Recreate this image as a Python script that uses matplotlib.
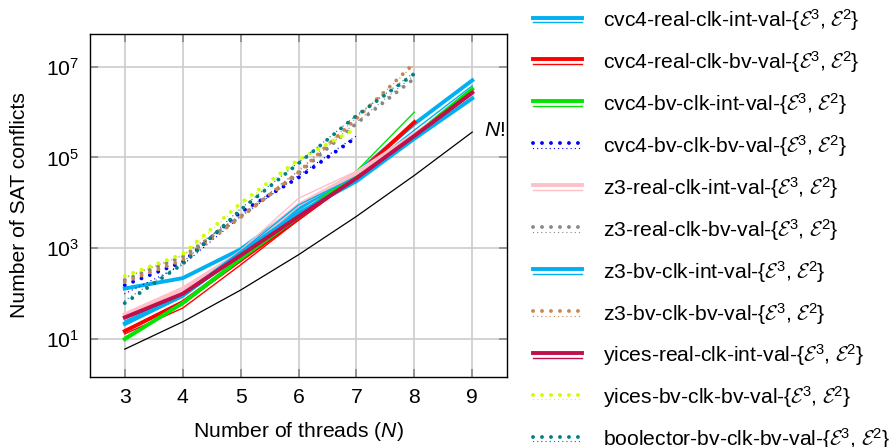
import matplotlib
matplotlib.use('Agg')
import matplotlib.pyplot as plt
from matplotlib.legend_handler import HandlerBase
from matplotlib.lines import Line2D

plt.rcParams['font.family'] = ['Liberation Sans', 'DejaVu Sans']
plt.rcParams['mathtext.fontset'] = 'custom'
plt.rcParams['mathtext.rm'] = 'Liberation Sans'
plt.rcParams['mathtext.it'] = 'Liberation Sans:italic'
plt.rcParams['mathtext.cal'] = 'cmsy10'

FS = 15.2

# ---------------- data ----------------
threads = [3, 4, 5, 6, 7, 8, 9]
n_factorial = [6, 24, 120, 720, 5040, 40320, 362880]

series_names = [
    'cvc4-real-clk-int-val', 'cvc4-real-clk-bv-val', 'cvc4-bv-clk-int-val',
    'cvc4-bv-clk-bv-val', 'z3-real-clk-int-val', 'z3-real-clk-bv-val',
    'z3-bv-clk-int-val', 'z3-bv-clk-bv-val', 'yices-real-clk-int-val',
    'yices-bv-clk-bv-val', 'boolector-bv-clk-bv-val',
]
series_colors = ['#00b0f0', '#ff0000', '#00e600', '#0000ff', '#ffc0c8', '#888888',
                 '#00b0f0', '#c88850', '#c0104a', '#ccff00', '#008080']
series_dotted = [False, False, False, True, False, True, False, True, False, True, True]

# E^3 (thick) and E^2 (thin) values per series
cvc4_real_clk_int_E3 = [130, 220, 950, 8000, 45000, 5.5e5, 5.0e6]
cvc4_real_clk_int_E2 = [20, 85, 700, 7000, 40000, 4.0e5, 3.8e6]
cvc4_real_clk_bv_E3 = [15, 65, 550, 4500, 40000, 6.0e5]
cvc4_real_clk_bv_E2 = [13, 48, 430, 4200, 35000, 3.0e5, 3.0e6]
cvc4_bv_clk_int_E3 = [10, 62, 600, 5000, 40000, 3.0e5, 3.2e6]
cvc4_bv_clk_int_E2 = [11, 58, 550, 5500, 50000, 1.0e6]
cvc4_bv_clk_bv_E3 = [155, 500, 6200, 36000, 2.8e5]
cvc4_bv_clk_bv_E2 = [100, 430, 5000, 40000, 3.0e5]
z3_real_clk_int_E3 = [35, 130, 800, 9000, 45000, 3.0e5, 2.3e6]
z3_real_clk_int_E2 = [30, 120, 900, 12600, 50000, 3.5e5, 2.5e6]
z3_real_clk_bv_E3 = [200, 650, 5000, 45000, 5.6e5, 5.5e6]
z3_real_clk_bv_E2 = [220, 700, 5500, 50000, 6.0e5, 6.5e6]
z3_bv_clk_int_E3 = [22, 90, 800, 6000, 30000, 2.6e5, 2.0e6]
z3_bv_clk_int_E2 = [25, 100, 850, 9000, 38000, 3.0e5, 2.5e6]
z3_bv_clk_bv_E3 = [182, 550, 4800, 47000, 7.2e5, 1.2e7]
z3_bv_clk_bv_E2 = [230, 700, 5200, 52000, 7.5e5, 1.1e7]
yices_real_clk_int_E3 = [30, 100, 700, 5000, 35000, 3.0e5, 2.7e6]
yices_real_clk_int_E2 = [28, 95, 650, 4800, 33000, 2.8e5, 2.5e6]
yices_bv_clk_bv_E3 = [245, 750, 9800, 90000, 4.4e5]
yices_bv_clk_bv_E2 = [230, 700, 9000, 85000, 4.2e5]
boolector_bv_clk_bv_E3 = [62, 450, 7000, 74000, 8.3e5, 7.0e6]
boolector_bv_clk_bv_E2 = [70, 480, 7500, 78000, 8.5e5, 7.5e6]

series_E3 = [cvc4_real_clk_int_E3, cvc4_real_clk_bv_E3, cvc4_bv_clk_int_E3,
             cvc4_bv_clk_bv_E3, z3_real_clk_int_E3, z3_real_clk_bv_E3,
             z3_bv_clk_int_E3, z3_bv_clk_bv_E3, yices_real_clk_int_E3,
             yices_bv_clk_bv_E3, boolector_bv_clk_bv_E3]
series_E2 = [cvc4_real_clk_int_E2, cvc4_real_clk_bv_E2, cvc4_bv_clk_int_E2,
             cvc4_bv_clk_bv_E2, z3_real_clk_int_E2, z3_real_clk_bv_E2,
             z3_bv_clk_int_E2, z3_bv_clk_bv_E2, yices_real_clk_int_E2,
             yices_bv_clk_bv_E2, boolector_bv_clk_bv_E2]

yticks = [1e1, 1e3, 1e5, 1e7]
ytick_labels = [r'$10^{1}$', r'$10^{3}$', r'$10^{5}$', r'$10^{7}$']


def style_kwargs(dotted, thick):
    if dotted:
        if thick:
            return dict(linestyle=(0, (0.01, 2.3)), dash_capstyle='round', linewidth=2.8)
        return dict(linestyle=(0, (0.01, 3.0)), dash_capstyle='round', linewidth=1.0)
    return dict(linestyle='-', linewidth=2.8 if thick else 1.0)


class DoubleLineHandler(HandlerBase):
    def create_artists(self, legend, orig_handle, xdescent, ydescent,
                       width, height, fontsize, trans):
        color, dotted = orig_handle
        ymid = height / 2 - ydescent
        arts = []
        for thick, dy in ((True, 0.12 * height), (False, -0.18 * height)):
            ln = Line2D([-xdescent, width - xdescent], [ymid + dy, ymid + dy],
                        color=color, **style_kwargs(dotted, thick))
            ln.set_transform(trans)
            arts.append(ln)
        return arts


fig = plt.figure(figsize=(8.96, 4.47), dpi=100)
ax = fig.add_axes([90 / 896, 1 - 377 / 447, 417 / 896, 343 / 447])

handles = []
labels = []
for name, col, dot, e3, e2 in zip(series_names, series_colors, series_dotted,
                                   series_E3, series_E2):
    ax.plot(threads[:len(e3)], e3, color=col, **style_kwargs(dot, True))
    ax.plot(threads[:len(e2)], e2, color=col, **style_kwargs(dot, False))
    handles.append((col, dot))
    labels.append(name + r'-{$\mathcal{E}^3$, $\mathcal{E}^2$}')

ax.plot(threads, n_factorial, color='black', linewidth=0.9)
ax.text(9.2, 10 ** 5.6, r'$N$!', fontsize=FS, ha='left', va='center')

ax.set_yscale('log')
ax.set_xlim(2.4, 9.6)
ax.set_ylim(10 ** 0.165, 10 ** 7.72)
ax.set_xticks(threads)
ax.set_xticklabels([str(t) for t in threads], fontsize=FS)
ax.set_yticks(yticks)
ax.set_yticklabels(ytick_labels, fontsize=FS)
ax.yaxis.set_minor_locator(matplotlib.ticker.NullLocator())
ax.grid(True, color='#cccccc', linewidth=1.2)
ax.set_axisbelow(True)
ax.tick_params(direction='in', length=6, color='#888888', top=True, right=True,
               width=1.2, pad=8)
for s in ax.spines.values():
    s.set_linewidth(1.0)
ax.set_xlabel(r'Number of threads ($N$)', fontsize=FS, labelpad=9)
ax.set_ylabel('Number of SAT conflicts', fontsize=FS, labelpad=12)

fig.legend(handles, labels, handler_map={tuple: DoubleLineHandler()},
           loc='upper left', bbox_to_anchor=(533 / 896, 1 - 7 / 447),
           frameon=False, fontsize=FS, borderpad=0, borderaxespad=0,
           handlelength=2.3, handletextpad=1.0, labelspacing=0.76)

fig.savefig('out.png', dpi=100)
